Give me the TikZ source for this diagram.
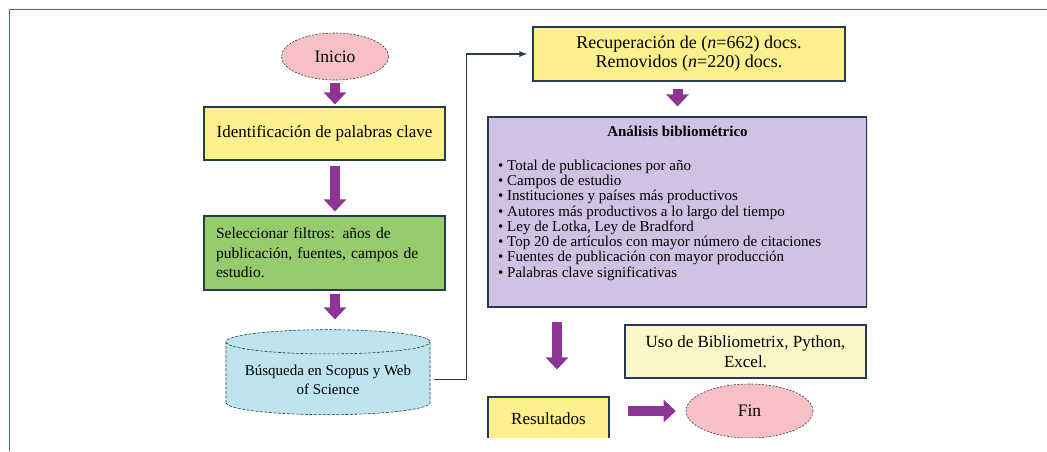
\documentclass[tikz,border=0pt]{standalone}
\usepackage{fontspec}
\setmainfont{Liberation Serif}
\usetikzlibrary{positioning}
\usetikzlibrary{shapes.geometric}
\usetikzlibrary{arrows.meta}
\definecolor{boxline}{RGB}{40,60,80}
\definecolor{framered}{RGB}{165,65,70}
\definecolor{boxyellow}{RGB}{252,240,140}
\definecolor{paleyellow}{RGB}{252,247,200}
\definecolor{boxpink}{RGB}{246,192,196}
\definecolor{boxgreen}{RGB}{150,204,110}
\definecolor{boxlilac}{RGB}{208,194,226}
\definecolor{boxblue}{RGB}{190,228,238}
\definecolor{fatpurple}{RGB}{142,52,148}
\tikzset{
	box/.style={
		draw=boxline,
		line width=1.1pt,
		align=center,
		font=\fontsize{17}{20}\selectfont},
	terminal/.style={
		ellipse,
		draw=boxline,
		semithick,
		dash pattern=on 2pt off 1.5pt,
		fill=boxpink,
		font=\fontsize{17.5}{20}\selectfont},
	fat/.style={
		draw=fatpurple,
		line width=10pt,
		-{Triangle[width=22pt,length=12pt]}},
	link/.style={
		draw=boxline,
		line width=1.1pt,
		-{Latex[length=8pt,width=6pt]}}
}
\begin{document}
\begin{tikzpicture}[x=1pt,y=-1pt]
	\useasboundingbox (0,0) rectangle (1047,451);
	\draw[framered, line width=1pt] (9.5,451) -- (9.5,9.5) -- (1047,9.5);
	\begin{scope}
		\clip (0,0) rectangle (867,437);
		% left column
		\node[terminal, minimum width=107pt, minimum height=47pt] (inicio) at (335,56.5) {Inicio};
		\node[box, fill=boxyellow, minimum width=241pt, minimum height=53pt] (ident) at (324.5,133.5) {Identificación de palabras clave};
		\node[box, fill=boxgreen, minimum width=241pt, minimum height=74pt, text width=217pt, align=left, font=\fontsize{15.5}{19.5}\selectfont] (filtros) at (324.5,253)
			{\makebox[217pt][s]{Seleccionar filtros: años de}\\
			 \makebox[217pt][s]{publicación, fuentes, campos de}\\
			 estudio.};
		\node[cylinder, shape border rotate=90, aspect=0.14, draw=boxline, semithick, dash pattern=on 3pt off 1.5pt, fill=boxblue,
			minimum width=204pt, minimum height=85pt, align=center, font=\fontsize{15}{19}\selectfont, anchor=south] (busqueda) at (328,415)
			{Búsqueda en Scopus y Web\\of Science};
		% right column
		\node[box, fill=boxyellow, minimum width=312pt, minimum height=54pt, font=\fontsize{18}{19}\selectfont] (recup) at (689,54)
			{Recuperación de (\textit{n}=662) docs.\\Removidos (\textit{n}=220) docs.};
		\node[box, fill=boxlilac, minimum width=379pt, minimum height=190pt] (analisis) at (677.5,212) {};
		\node[anchor=base, font=\fontsize{15}{16}\selectfont\bfseries] (titulo) at (677.5,136) {Análisis bibliométrico};
		\node[anchor=north west, align=left, inner sep=0pt, font=\fontsize{15}{15.3}\selectfont] (lista) at (498,159.5)
			{\textbullet\ Total de publicaciones por año\\
			 \textbullet\ Campos de estudio\\
			 \textbullet\ Instituciones y países más productivos\\
			 \textbullet\ Autores más productivos a lo largo del tiempo\\
			 \textbullet\ Ley de Lotka, Ley de Bradford\\
			 \textbullet\ Top 20 de artículos con mayor número de citaciones\\
			 \textbullet\ Fuentes de publicación con mayor producción\\
			 \textbullet\ Palabras clave significativas};
		\node[box, fill=paleyellow, minimum width=241pt, minimum height=53pt] (uso) at (745.5,351.5)
			{Uso de Bibliometrix, Python,\\Excel.};
		\node[box, fill=boxyellow, minimum width=121pt, minimum height=43pt] (resultados) at (548.5,418.5) {Resultados};
		\node[terminal, minimum width=127pt, minimum height=54pt] (fin) at (749.5,411) {Fin};
		% flow
		\draw[fat, shorten <=3pt, shorten >=2pt] (inicio.south) -- (inicio.south |- ident.north);
		\draw[fat, shorten <=5pt, shorten >=4pt] (inicio.south |- ident.south) -- (inicio.south |- filtros.north);
		\draw[fat, shorten <=3pt, shorten >=10pt] (inicio.south |- filtros.south) -- (inicio.south |- busqueda.north);
		\draw[link, shorten >=5pt] ([xshift=4pt]busqueda.east) -- ++(32,0) |- (recup.west);
		\draw[fat, shorten <=7pt, shorten >=10pt] (analisis.north |- recup.south) -- (analisis.north);
		\draw[fat, shorten <=14pt, shorten >=27pt] ([xshift=8.5pt]resultados.north |- analisis.south) -- ([xshift=8.5pt]resultados.north);
		\draw[fat, shorten <=18pt, shorten >=10pt] (resultados.east |- fin.west) -- (fin.west);
	\end{scope}
\end{tikzpicture}
\end{document}
